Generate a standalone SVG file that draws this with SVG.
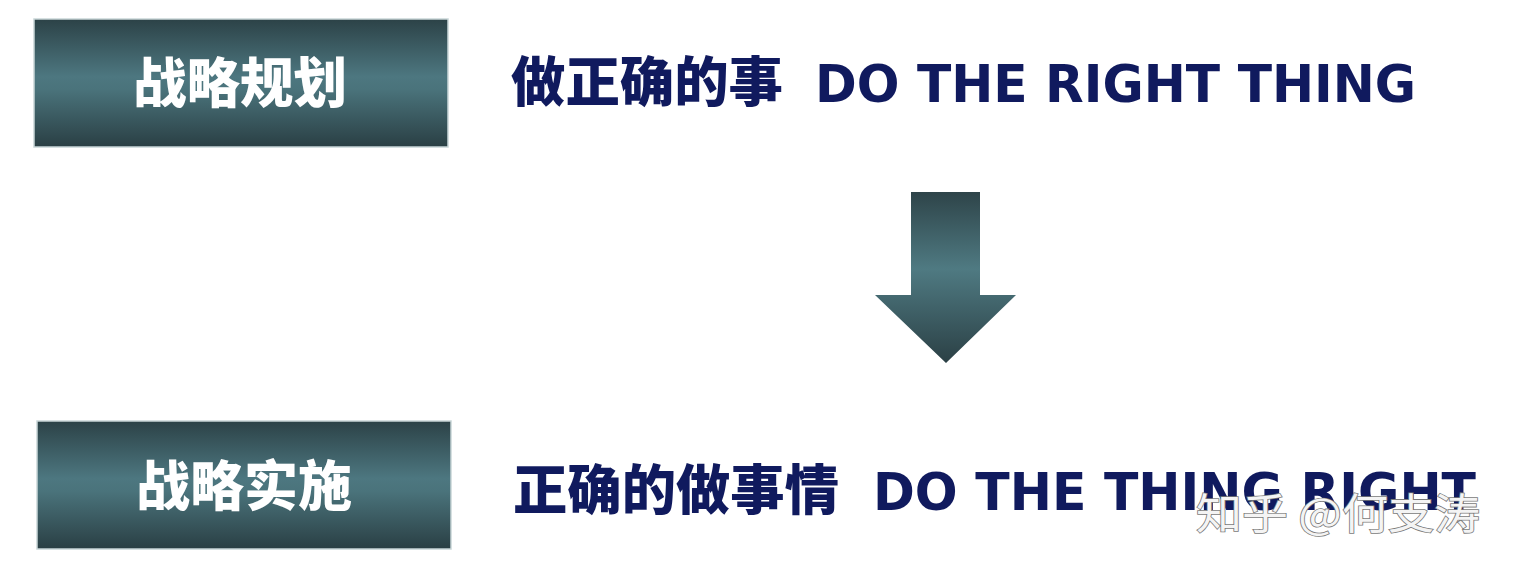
<svg xmlns="http://www.w3.org/2000/svg" width="1518" height="578" viewBox="0 0 1518 578">
<defs>
<linearGradient id="boxg" x1="0" y1="0" x2="0" y2="1">
<stop offset="0" stop-color="#2c4247"/>
<stop offset="0.45" stop-color="#4d7780"/>
<stop offset="0.55" stop-color="#4a737b"/>
<stop offset="1" stop-color="#2a3f44"/>
</linearGradient>
<linearGradient id="arrg" x1="0" y1="0" x2="0" y2="1">
<stop offset="0" stop-color="#2e4449"/>
<stop offset="0.45" stop-color="#4f7a82"/>
<stop offset="1" stop-color="#2b4045"/>
</linearGradient>
<style>
.box{fill:url(#boxg);stroke:#c9d6d8;stroke-width:1.5}
.lbl{font-family:"Noto Sans CJK SC","Noto Sans",sans-serif;font-weight:900;font-size:54px;fill:#ffffff;text-anchor:middle}
.zh{font-family:"Noto Sans CJK SC",sans-serif;font-weight:900;font-size:54px;fill:#101a5e}
.en{font-family:"DejaVu Sans","Noto Sans",sans-serif;font-weight:bold;font-size:52px;fill:#101a5e}
.wm{font-family:"Noto Sans CJK SC",sans-serif;font-size:42px;fill:#f4f4f4;stroke:#7a7a7a;stroke-width:1.6;paint-order:stroke}
</style>
</defs>
<g id="node-plan">
<rect class="box" x="34" y="19" width="414" height="128"/>
<text class="lbl" x="240" y="103" textLength="214" lengthAdjust="spacingAndGlyphs">战略规划</text>
</g>
<g id="node-exec">
<rect class="box" x="37" y="421" width="414" height="128"/>
<text class="lbl" x="244" y="506" textLength="216" lengthAdjust="spacingAndGlyphs">战略实施</text>
</g>
<g id="text-top">
<text class="zh" x="511" y="102" textLength="272" lengthAdjust="spacingAndGlyphs">做正确的事</text>
<text class="en" x="815" y="102" textLength="601" lengthAdjust="spacingAndGlyphs">DO THE RIGHT THING</text>
</g>
<g id="text-bottom">
<text class="zh" x="513" y="510" textLength="326" lengthAdjust="spacingAndGlyphs">正确的做事情</text>
<text class="en" x="873" y="510" textLength="603" lengthAdjust="spacingAndGlyphs">DO THE THING RIGHT</text>
</g>
<g id="connectors">
<path d="M911,192 H980 V295 H1016 L946,363 L875,295 H911 Z" fill="url(#arrg)"/>
</g>
<g id="watermark">
<text class="wm" x="1196" y="529" textLength="284" lengthAdjust="spacingAndGlyphs">知乎 @何支涛</text>
</g>
</svg>
